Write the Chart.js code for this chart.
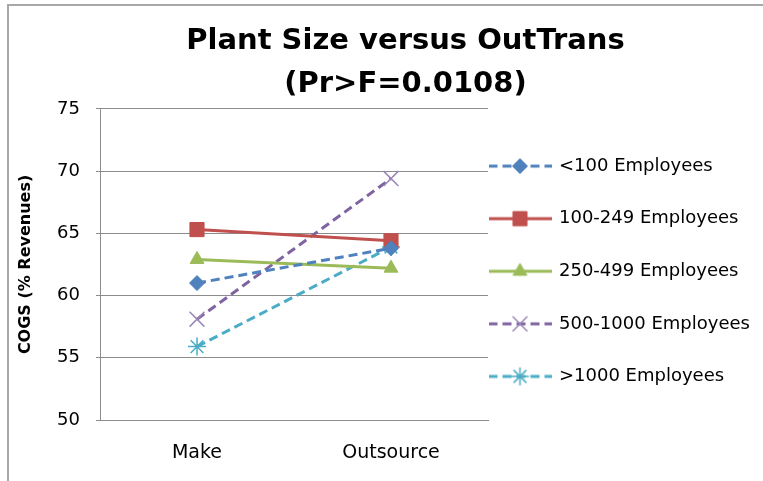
<!DOCTYPE html>
<html>
<head>
<meta charset="utf-8">
<script src="https://cdn.jsdelivr.net/npm/chart.js@4.4.1/dist/chart.umd.min.js"></script>
<style>
  html, body { margin: 0; padding: 0; background: #fff; overflow: hidden; }
  #wrap { position: relative; width: 763px; height: 481px; }
  #marco { position: absolute; left: 7px; top: 4px; width: 820px; height: 520px;
           border-left: 2px solid #a8a8a8; border-top: 2px solid #a8a8a8; pointer-events: none; }
  canvas { position: absolute; left: 0; top: 0; }
</style>
</head>
<body>
<div id="wrap">
  <canvas id="grafico" width="763" height="481"></canvas>
  <div id="marco"></div>
</div>
<script>
// datos
const categorias = ['Make', 'Outsource'];
const nombresSeries = ['<100 Employees', '100-249 Employees', '250-499 Employees', '500-1000 Employees', '>1000 Employees'];
const menos100 = [61.0, 63.8];
const de100a249 = [65.3, 64.4];
const de250a499 = [62.9, 62.2];
const de500a1000 = [58.1, 69.4];
const mas1000 = [55.9, 63.9];
const ticksY = [50, 55, 60, 65, 70, 75];

const fuente = "'DejaVu Sans', sans-serif";
const guiones = [9, 5];

const estilos = [
  { color: '#4F81BD', dash: guiones, punto: 'rectRot', radio: 7.5, relleno: '#4F81BD', borde: '#4F81BD', grosor: 1 },
  { color: '#C0504D', dash: [], punto: 'rect', radio: 10, relleno: '#C0504D', borde: '#C0504D', grosor: 1 },
  { color: '#9BBB59', dash: [], punto: 'triangle', radio: 8, relleno: '#9BBB59', borde: '#9BBB59', grosor: 1 },
  { color: '#8064A2', dash: guiones, punto: 'crossRot', radio: 10.5, relleno: '#9A86B6', borde: '#9A86B6', grosor: 1.5 },
  { color: '#4BACC6', dash: guiones, punto: 'star', radio: 9, relleno: '#4BACC6', borde: '#4BACC6', grosor: 1.5 }
];
const valores = [menos100, de100a249, de250a499, de500a1000, mas1000];

const datasets = valores.map((v, i) => ({
  label: nombresSeries[i],
  data: v,
  borderColor: estilos[i].color,
  borderWidth: 3,
  borderDash: estilos[i].dash,
  pointStyle: estilos[i].punto,
  pointRadius: estilos[i].radio,
  pointBackgroundColor: estilos[i].relleno,
  pointBorderColor: estilos[i].borde,
  pointBorderWidth: estilos[i].grosor,
  fill: false,
  tension: 0
}));

// muestra de leyenda: linea + marcador
function muestraLeyenda(ds) {
  const c = document.createElement('canvas');
  c.width = 63; c.height = 22;
  const ctx = c.getContext('2d');
  ctx.strokeStyle = ds.borderColor;
  ctx.lineWidth = 3;
  ctx.setLineDash(ds.borderDash);
  ctx.beginPath(); ctx.moveTo(0, 11); ctx.lineTo(63, 11); ctx.stroke();
  ctx.setLineDash([]);
  ctx.fillStyle = ds.pointBackgroundColor;
  ctx.strokeStyle = ds.pointBorderColor;
  ctx.lineWidth = ds.pointBorderWidth;
  Chart.helpers.drawPoint(ctx, { pointStyle: ds.pointStyle, radius: ds.pointRadius, rotation: 0, borderWidth: ds.pointBorderWidth }, 31.5, 11);
  return c;
}
const muestras = datasets.map(muestraLeyenda);

const anchoLeyenda = 267;

// el marco original es mas ancho que la imagen: el titulo queda corrido a la derecha
// y la leyenda ocupa mas de la mitad del ancho que Chart.js le deja
const ajustes = {
  id: 'ajustes',
  afterInit(chart) {
    const ley = chart.legend;
    const fitOriginal = ley.fit;
    ley.fit = function () {
      fitOriginal.call(this);
      this.width = anchoLeyenda;
    };
  },
  afterLayout(chart) {
    chart.titleBlock.left += 23;
    chart.titleBlock.right += 23;
  }
};

new Chart(document.getElementById('grafico').getContext('2d'), {
  type: 'line',
  data: { labels: categorias, datasets: datasets },
  plugins: [ajustes],
  options: {
    responsive: false,
    animation: false,
    layout: { padding: { left: 10, right: 8, top: 4, bottom: 17 } },
    plugins: {
      title: {
        display: true,
        text: ['Plant Size versus OutTrans', '(Pr>F=0.0108)'],
        color: '#000',
        font: { family: fuente, size: 29, weight: 'bold', lineHeight: 1.48 },
        padding: { top: 16, bottom: 3 }
      },
      legend: {
        position: 'right',
        align: 'end',
        fullSize: false,
        labels: {
          usePointStyle: true,
          pointStyleWidth: 60,
          padding: 2,
          color: '#000',
          font: { family: fuente, size: 18, lineHeight: 2.81 },
          generateLabels: chart => chart.data.datasets.map((ds, i) => ({
            text: [ds.label],
            pointStyle: muestras[i],
            fillStyle: 'transparent',
            strokeStyle: 'transparent',
            lineWidth: 0,
            fontColor: '#000',
            hidden: false,
            datasetIndex: i
          }))
        }
      },
      tooltip: { enabled: false }
    },
    scales: {
      x: {
        offset: true,
        afterFit: s => { s.height = 44; },
        grid: { display: false, drawTicks: false },
        border: { color: '#8c8c8c' },
        ticks: { color: '#000', padding: 22, font: { family: fuente, size: 19 } }
      },
      y: {
        min: ticksY[0],
        max: ticksY[ticksY.length - 1],
        afterBuildTicks: s => { s.ticks = ticksY.map(v => ({ value: v })); },
        afterFit: s => { s.width = 90; },
        grid: { color: '#8c8c8c', tickLength: 4 },
        border: { color: '#8c8c8c' },
        ticks: { color: '#000', padding: 16, font: { family: fuente, size: 18 } },
        title: {
          display: true,
          text: 'COGS (% Revenues)',
          color: '#000',
          font: { family: fuente, size: 16, weight: 'bold' },
          padding: { top: 6, bottom: 0 }
        }
      }
    }
  }
});
</script>
</body>
</html>
